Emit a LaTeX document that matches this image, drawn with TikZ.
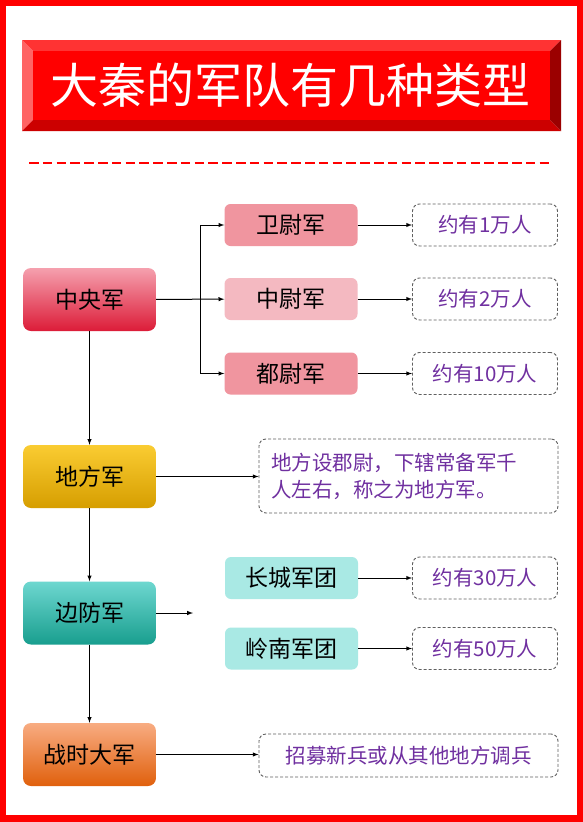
\documentclass[tikz,border=0pt]{standalone}
\usepackage{fontspec}
\setmainfont{Noto Sans CJK SC}
\usetikzlibrary{positioning}
\definecolor{qin-red}{RGB}{255, 0, 0}
\definecolor{bevel-top}{RGB}{255, 51, 51}
\definecolor{bevel-left}{RGB}{255, 100, 100}
\definecolor{bevel-bottom}{RGB}{204, 0, 0}
\definecolor{bevel-right}{RGB}{155, 0, 0}
\definecolor{note-gray}{RGB}{96, 96, 96}
\definecolor{note-purple}{RGB}{112, 48, 160}
\definecolor{pink-dark}{RGB}{240, 149, 159}
\definecolor{pink-light}{RGB}{244, 185, 193}
\definecolor{teal-light}{RGB}{169, 233, 228}

\begin{document}
\begin{tikzpicture}[x=1pt, y=-1pt,
    main/.style={rounded corners=8pt, minimum width=133pt, minimum height=63pt, inner sep=0pt, font=\fontsize{23}{23}\selectfont},
    unit/.style={rounded corners=6pt, minimum width=133pt, minimum height=42pt, inner sep=0pt, font=\fontsize{23}{23}\selectfont},
    note/.style={draw=note-gray, line width=0.9pt, dash pattern=on 3pt off 2pt, rounded corners=7pt, minimum height=42pt, inner sep=0pt, text=note-purple, font=\fontsize{20.5}{27}\selectfont},
    link/.style={-latex, line width=1pt}]
    % frame and title
    \fill[qin-red] (0, 0) rectangle (583, 822);
    \fill[white] (6, 6) rectangle (577, 815);
    \fill[bevel-top] (22, 40) -- (561, 40) -- (550, 51) -- (33, 51) -- cycle;
    \fill[bevel-left] (22, 40) -- (33, 51) -- (33, 120) -- (22, 131) -- cycle;
    \fill[bevel-bottom] (22, 131) -- (33, 120) -- (550, 120) -- (561, 131) -- cycle;
    \fill[bevel-right] (561, 40) -- (561, 131) -- (550, 120) -- (550, 51) -- cycle;
    \fill[qin-red] (33, 51) rectangle (550, 120);
    \node[text=white, font=\fontsize{48}{48}\selectfont] (title) at (290.5, 85) {大秦的军队有几种类型};
    \draw[qin-red, line width=2.5pt, dash pattern=on 9.5pt off 4.3pt] (29, 163) -- (553, 163);

    % left column
    \node[main, top color={rgb,255:red,245;green,160;blue,174}, bottom color={rgb,255:red,220;green,28;blue,56}] (zyj) at (89.5, 299.5) {中央军};
    \node[main, top color={rgb,255:red,250;green,204;blue,50}, bottom color={rgb,255:red,214;green,158;blue,0}] (dfj) at (89.5, 476.5) {地方军};
    \node[main, top color={rgb,255:red,110;green,215;blue,208}, bottom color={rgb,255:red,24;green,158;blue,142}] (bfj) at (89.5, 613) {边防军};
    \node[main, top color={rgb,255:red,248;green,172;blue,130}, bottom color={rgb,255:red,224;green,96;blue,12}] (zsdj) at (89.5, 754.5) {战时大军};

    % units
    \node[unit, fill=pink-dark] (wwj) at (291, 225) {卫尉军};
    \node[unit, fill=pink-light] (zwj) at (291, 299) {中尉军};
    \node[unit, fill=pink-dark] (dwj) at (291, 373.5) {都尉军};
    \node[unit, fill=teal-light] (ccjt) at (291.5, 578) {长城军团};
    \node[unit, fill=teal-light] (lnjt) at (291.5, 648.5) {岭南军团};

    % notes
    \node[note, minimum width=145pt] (ww-n) at (485, 225) {约有1万人};
    \node[note, minimum width=145pt] (zw-n) at (485, 299) {约有2万人};
    \node[note, minimum width=145pt] (dw-n) at (485, 373.5) {约有10万人};
    \node[note, minimum width=145pt] (cc-n) at (485, 578) {约有30万人};
    \node[note, minimum width=145pt] (ln-n) at (485, 648.5) {约有50万人};
    \node[note, minimum width=299pt, minimum height=74pt, text width=275pt, align=left] (df-n) at (408.5, 476) {地方设郡尉，下辖常备军千\\人左右，称之为地方军。};
    \node[note, minimum width=299pt, minimum height=43pt] (zs-n) at (408.5, 755.5) {招募新兵或从其他地方调兵};

    % connectors
    \coordinate (fork) at (200, 299.5);
    \coordinate (bf-end) at (193, 613);
    \draw[link] (zyj) -- (zwj);
    \draw[link] (fork) |- (wwj.west);
    \draw[link] (fork) |- (dwj.west);
    \draw[link] (wwj) -- (ww-n);
    \draw[link] (zwj) -- (zw-n);
    \draw[link] (dwj) -- (dw-n);
    \draw[link] (zyj) -- (dfj);
    \draw[link] (dfj) -- (df-n.west |- dfj);
    \draw[link] (dfj) -- (bfj);
    \draw[link] (bfj.east) -- (bf-end);
    \draw[link] (ccjt) -- (cc-n);
    \draw[link] (lnjt) -- (ln-n);
    \draw[link] (bfj) -- (zsdj);
    \draw[link] (zsdj) -- (zs-n.west |- zsdj);
\end{tikzpicture}
\end{document}
